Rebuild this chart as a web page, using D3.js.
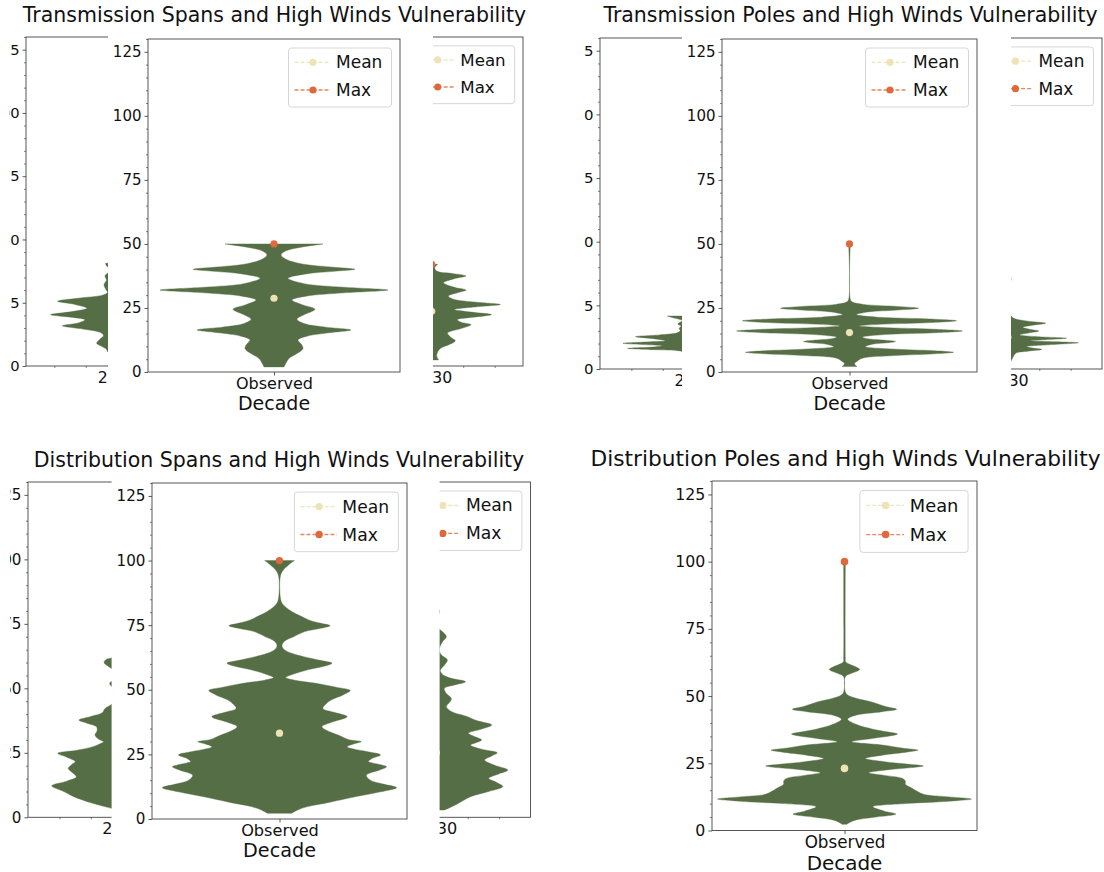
<!DOCTYPE html>
<html>
<head>
<meta charset="utf-8">
<script src="https://cdn.jsdelivr.net/npm/d3@7"></script>
<style>
  body { margin: 0; background: #fff; }
  svg { display: block; }
</style>
</head>
<body>
<svg id="chart" width="1104" height="872"></svg>
<script>
// ---- data ----
const titles = [
  'Transmission Spans and High Winds Vulnerability',
  'Transmission Poles and High Winds Vulnerability',
  'Distribution Spans and High Winds Vulnerability',
  'Distribution Poles and High Winds Vulnerability'
];
const frontCats = ['Observed'];
const backCats = ['2020', '2030'];
const yTicks = [0, 25, 50, 75, 100, 125];
const legendLabels = ['Mean', 'Max'];

// violin profiles: [vulnerability value, density (half width)]
const tsObserved = [[2.0,10],[3.5,12],[5.3,15],[7.2,23],[9.2,29],[11,27],[12.5,24],[14,33],[15.3,55],[16.4,77],[17.5,52],[18.8,31],[20.6,23],[22.5,31],[24.5,41],[26.3,28],[28.1,18],[29.6,32],[30.9,70],[32,114],[33.1,70],[34.5,30],[36.6,14],[38.3,32],[39.3,60],[40.1,81],[40.9,60],[42.2,28],[44,12],[45.7,7],[47.3,12],[48.7,27],[50,49]];
const tpObserved = [[2.1,7.5],[3.2,5],[4.3,8],[5.4,13],[6.4,45],[7.1,85],[7.7,104],[8.3,85],[9,42],[9.9,16],[10.9,24],[11.4,38],[11.9,46],[12.4,36],[13,18],[13.6,13],[14.6,35],[15.3,85],[16,113],[16.7,85],[17.4,32],[18,10],[18.6,30],[19.3,82],[20,107],[20.7,80],[21.4,28],[22.4,7],[23.4,18],[24.2,48],[24.9,69],[25.6,48],[26.4,14],[27.4,2.5],[28.4,0.8],[50,0.8]];
const dsObserved = [[2.2,12],[3.5,18],[4.8,28],[6.5,50],[8.6,75],[10.5,100],[12.1,116],[13.5,103],[15,90],[17,86],[18.8,98],[20.2,106],[21.2,98],[22.2,88],[23.5,92],[24.8,100],[26.3,84],[27.9,67],[29.2,75],[29.9,81],[30.8,68],[32.5,58],[34,48],[35.7,42],[37.6,53],[39.6,67],[41.3,54],[42.8,43],[44.5,46],[46.2,52],[48,63],[49.7,70],[51,56],[52.5,36],[53.7,15],[54.7,6],[55.8,12],[57.7,28],[59.3,46],[60.3,52],[61.4,40],[62.8,24],[64.1,12],[65.8,4],[67.3,2.5],[68.8,5],[70.5,14],[72.5,25],[73.8,41],[74.8,50],[75.8,40],[77,29],[78.7,20],[80.2,12.5],[82,6],[83.5,2.5],[85.5,0.9],[94,0.9],[96.4,4],[98.3,9],[100,14.7]];
const dpObserved = [[2.3,2],[3.2,6],[4,12],[5,30],[6.1,49],[7.2,38],[8.8,27],[10,58],[10.9,100],[11.7,121],[12.5,100],[13.4,76],[14.4,70],[15.8,64],[17.2,58],[18.3,58],[19.4,55],[20.5,38],[21.5,23],[22.6,42],[23.4,64],[24,75],[24.6,62],[25.6,38],[26.8,20],[28,36],[29.2,60],[29.9,70],[30.6,56],[31.8,36],[33,7],[34.2,26],[35.2,44],[35.9,50.5],[36.6,42],[37.7,27],[39.5,11],[41.4,3],[42.8,10],[44.2,36],[45.1,49.7],[46,40],[47.8,26],[49.2,11],[50.4,3],[51.5,0.8],[57.2,0.8],[58.2,5],[59.1,11],[59.9,14.5],[60.8,11],[61.8,5],[62.8,1],[63.8,0.8],[100,0.8]];

// partly hidden decade violins behind the front panels
const tsLeft = [[5.6,10],[6.6,11],[8,17],[9,21],[10.5,18],[12,14],[13.2,17],[14.6,35],[15.9,56],[17,40],[18.3,33],[19.4,50],[20.3,68],[21.3,50],[22.8,31],[24.4,44],[25.6,61],[26.8,40],[28,15],[29,10],[30.5,12],[32.2,13.5],[34,11],[35.6,12.5],[37,9],[38.5,8],[39.6,11],[40.6,12]];
const tsRight = [[2.4,7],[4,5],[5.5,6],[7,9],[8.5,18],[10,24],[11.5,19],[13,16],[14.8,30],[16.3,40],[17.3,30],[18.3,26],[19.4,45],[20.3,61],[21.3,40],[22.3,23],[23.4,46],[24.3,70],[25.2,46],[26.4,22],[27.6,17],[28.9,26],[30,35],[31,24],[32.9,12],[34.5,23],[35.6,35],[36.5,22],[37.5,5],[38.8,3],[40.2,6]];
const tpLeft = [[6.2,8],[7.1,14],[7.6,42],[8.1,67],[8.6,42],[9.1,32],[9.6,52],[10.1,71.5],[10.6,50],[11.1,29],[11.9,41],[12.7,59],[13.4,35],[14.2,17],[15,14],[16,15],[16.9,13],[17.7,16.5],[19,12],[20,20],[20.8,27]];
const tpRight = [[2.9,3],[4.5,5],[6.2,8],[7,20],[7.7,34],[8.2,25],[8.8,19],[9.6,45],[10.3,71],[10.8,40],[11.1,22],[11.6,40],[12.1,59],[12.7,30],[13.4,12],[14.2,22],[14.9,31],[15.6,22],[16.4,15],[17.2,25],[18,38],[18.8,20],[19.9,6],[21,3],[23,0.8],[35.3,0.8]];
const dsLeft = [[3.5,11],[5.5,30],[8,48],[10,58],[12.2,70],[14,55],[15.7,45.5],[17.5,50],[19,53.6],[20.5,50],[21.6,46.6],[23.3,55],[24.8,64],[26,45],[27.4,29],[28.5,22],[29.3,18.5],[30.5,24],[31.9,27],[33.5,25],[35.1,25.5],[36.5,35],[37.7,43],[39,32],[40.5,20],[42.2,17],[44,10],[46,8],[48,7],[50,9],[51.9,12.5],[53.5,8],[56,6],[58.6,14],[59.9,18],[61.2,16],[62,6]];
const dsRight = [[2.8,8],[5,20],[8,34],[10,52],[11.9,66],[13.5,60],[15.1,52],[16.8,62],[18.3,71],[20.2,58],[22.2,48],[23.8,55],[25,60.5],[26.5,44],[28,34],[29,40],[30,45],[31.3,38],[32.6,32],[34.2,45],[35.8,55],[37.5,40],[39,31],[41,15],[42.9,10],[44.5,13],[46.1,15],[48,10],[50,8],[51.3,18],[52.6,29],[54,14],[55.5,6],[57,4],[59,8],[61,11],[63,5],[65,3],[68,6],[70,10],[72,6],[74,1],[79.7,1]];

const observedMeans = [28.8, 15.4, 33.2, 23.1];
const observedMaxes = [50, 50, 100, 100];
const rightMeans = [21.6, 12.5, 25.0];
const rightMaxes = [40.2, 35.3, 79.7];

// ---- style ----
const FONT = '"DejaVu Sans", sans-serif';
const VIOLIN = '#566e45';
const MEAN_C = '#eee3b5';
const MAX_C = '#e0693b';
const SPINE = '#444';

const svg = d3.select('#chart');
const defs = svg.append('defs');

function drawLegend(g, right, top, s) {
  const w = 103 * s, h = 59 * s, left = right - w;
  g.append('rect')
    .attr('x', left).attr('y', top).attr('width', w).attr('height', h)
    .attr('rx', 3 * s).attr('fill', '#fff').attr('stroke', '#d6d6d6').attr('stroke-width', 1);
  [MEAN_C, MAX_C].forEach((c, i) => {
    const cy = top + (14.3 + 27.7 * i) * s;
    g.append('line')
      .attr('x1', left + 6 * s).attr('x2', left + 42 * s).attr('y1', cy).attr('y2', cy)
      .attr('stroke', c).attr('stroke-width', 1.3).attr('stroke-dasharray', '4,2')
      .attr('opacity', i ? 0.8 : 0.9);
    g.append('circle').attr('cx', left + 24.5 * s).attr('cy', cy).attr('r', 3.6 * s).attr('fill', c);
    g.append('text')
      .attr('x', left + 47.5 * s).attr('y', cy).attr('dy', '0.35em')
      .attr('font-family', FONT).attr('font-size', 17 * s).attr('fill', '#111')
      .text(legendLabels[i]);
  });
}

function drawPanel(g, p) {
  const s = p.s;
  const y = d3.scaleLinear().domain([0, 130]).range([p.bottom, p.top]);
  const x = d3.scalePoint().domain(p.cats).range([p.left, p.right]).padding(p.pad);
  const w = d3.scaleLinear().domain([0, 1]).range([0, s]);

  p.cats.forEach((c, i) => {
    const cx = x(c);
    const area = d3.area()
      .y(d => y(d[0]))
      .x0(d => cx - w(d[1]))
      .x1(d => cx + w(d[1]))
      .curve(d3.curveCatmullRom.alpha(0.5));
    g.append('path').datum(p.profiles[i]).attr('d', area)
      .attr('fill', VIOLIN).attr('stroke', VIOLIN).attr('stroke-width', 0.4);
    if (p.means[i] != null) {
      g.append('circle').attr('cx', cx).attr('cy', y(p.maxes[i])).attr('r', 3.6 * s).attr('fill', MAX_C);
      g.append('circle').attr('cx', cx).attr('cy', y(p.means[i])).attr('r', 3.6 * s).attr('fill', MEAN_C);
    }
  });

  // frame
  g.append('rect')
    .attr('x', p.left).attr('y', p.top)
    .attr('width', p.right - p.left).attr('height', p.bottom - p.top)
    .attr('fill', 'none').attr('stroke', SPINE).attr('stroke-width', 0.9);

  // y axis, majors and minors
  const ya = g.append('g').attr('transform', `translate(${p.left},0)`)
    .call(d3.axisLeft(y).tickValues(yTicks).tickSize(3.5 * s).tickPadding(3 * s));
  ya.select('.domain').remove();
  ya.attr('font-family', FONT).attr('font-size', 15 * s);
  ya.selectAll('line').attr('stroke', '#333').attr('stroke-width', 0.8);
  ya.selectAll('text').attr('fill', '#111');
  const minorY = y.ticks(26).filter(v => v % 25 !== 0);
  const ym = g.append('g').attr('transform', `translate(${p.left},0)`)
    .call(d3.axisLeft(y).tickValues(minorY).tickSize(2 * s).tickFormat(''));
  ym.select('.domain').remove();
  ym.selectAll('line').attr('stroke', '#333').attr('stroke-width', 0.6);

  // x axis
  const xa = g.append('g').attr('transform', `translate(0,${p.bottom})`)
    .call(d3.axisBottom(x).tickSize(3.5 * s).tickPadding(2.1 * s));
  xa.select('.domain').remove();
  xa.attr('font-family', FONT).attr('font-size', 16 * s);
  xa.selectAll('line').attr('stroke', '#333').attr('stroke-width', 0.8);
  xa.selectAll('text').attr('fill', '#111');
  if (p.cats.length > 1) {
    const xi = d3.scaleLinear().domain([0, 1]).range([x(p.cats[0]), x(p.cats[1])]);
    const minorX = d3.range(-2, 13).filter(k => k % 10 !== 0).map(k => k / 10)
      .filter(v => xi(v) > p.left && xi(v) < p.right);
    const xm = g.append('g').attr('transform', `translate(0,${p.bottom})`)
      .call(d3.axisBottom(xi).tickValues(minorX).tickSize(2 * s).tickFormat(''));
    xm.select('.domain').remove();
    xm.selectAll('line').attr('stroke', '#333').attr('stroke-width', 0.6);
  } else {
    g.append('text')
      .attr('x', (p.left + p.right) / 2).attr('y', p.bottom + 38 * s)
      .attr('text-anchor', 'middle').attr('font-family', FONT).attr('font-size', 19 * s)
      .attr('fill', '#111').text('Decade');
  }
  drawLegend(g, p.right - 8.5 * s, p.top + 9 * s, s);
}

// ---- layout of the four screenshots ----
const quads = [
  { title: titles[0], tx: 274.5, ty: 22, ts: 1,
    clip: [9.5, 0, 552, 436], cover: [108, 31, 433, 436],
    back: { left: 26, right: 523, top: 37, bottom: 366, s: 0.98, pad: 0.29,
            cats: backCats, profiles: [tsLeft, tsRight], means: [null, rightMeans[0]], maxes: [null, rightMaxes[0]] },
    front: { left: 148, right: 400, top: 39, bottom: 372, s: 1, pad: 0.5,
             cats: frontCats, profiles: [tsObserved], means: [observedMeans[0]], maxes: [observedMaxes[0]] } },
  { title: titles[1], tx: 850.5, ty: 22, ts: 1,
    clip: [584.5, 0, 1104, 436], cover: [682, 31, 1011, 436],
    back: { left: 600, right: 1102, top: 38, bottom: 369, s: 0.994, pad: 0.3,
            cats: backCats, profiles: [tpLeft, tpRight], means: [null, rightMeans[1]], maxes: [null, rightMaxes[1]] },
    front: { left: 722, right: 977, top: 39, bottom: 372, s: 1, pad: 0.5,
             cats: frontCats, profiles: [tpObserved], means: [observedMeans[1]], maxes: [observedMaxes[1]] } },
  { title: titles[2], tx: 279, ty: 467, ts: 1,
    clip: [10, 436, 552, 872], cover: [111.6, 476, 439.6, 872],
    back: { left: 28, right: 530.5, top: 482, bottom: 817.3, s: 1.008, pad: 0.3,
            cats: backCats, profiles: [dsLeft, dsRight], means: [null, rightMeans[2]], maxes: [null, rightMaxes[2]] },
    front: { left: 152, right: 407, top: 483, bottom: 819, s: 1.01, pad: 0.5,
             cats: frontCats, profiles: [dsObserved], means: [observedMeans[2]], maxes: [observedMaxes[2]] } },
  { title: titles[3], tx: 845.5, ty: 466, ts: 1.06,
    clip: null, cover: null, back: null,
    front: { left: 712, right: 977, top: 481, bottom: 830.5, s: 1.05, pad: 0.5,
             cats: frontCats, profiles: [dpObserved], means: [observedMeans[3]], maxes: [observedMaxes[3]] } }
];

quads.forEach((q, i) => {
  const qg = svg.append('g');
  if (q.back) {
    defs.append('clipPath').attr('id', `clip${i}`).append('rect')
      .attr('x', q.clip[0]).attr('y', q.clip[1])
      .attr('width', q.clip[2] - q.clip[0]).attr('height', q.clip[3] - q.clip[1]);
    const bg = qg.append('g').attr('clip-path', `url(#clip${i})`);
    drawPanel(bg, q.back);
    qg.append('rect')
      .attr('x', q.cover[0]).attr('y', q.cover[1])
      .attr('width', q.cover[2] - q.cover[0]).attr('height', q.cover[3] - q.cover[1])
      .attr('fill', '#fff');
  }
  drawPanel(qg.append('g'), q.front);
  qg.append('text')
    .attr('x', q.tx).attr('y', q.ty).attr('text-anchor', 'middle')
    .attr('font-family', FONT).attr('font-size', 20.5 * q.ts).attr('fill', '#111')
    .text(q.title);
});
</script>
</body>
</html>
